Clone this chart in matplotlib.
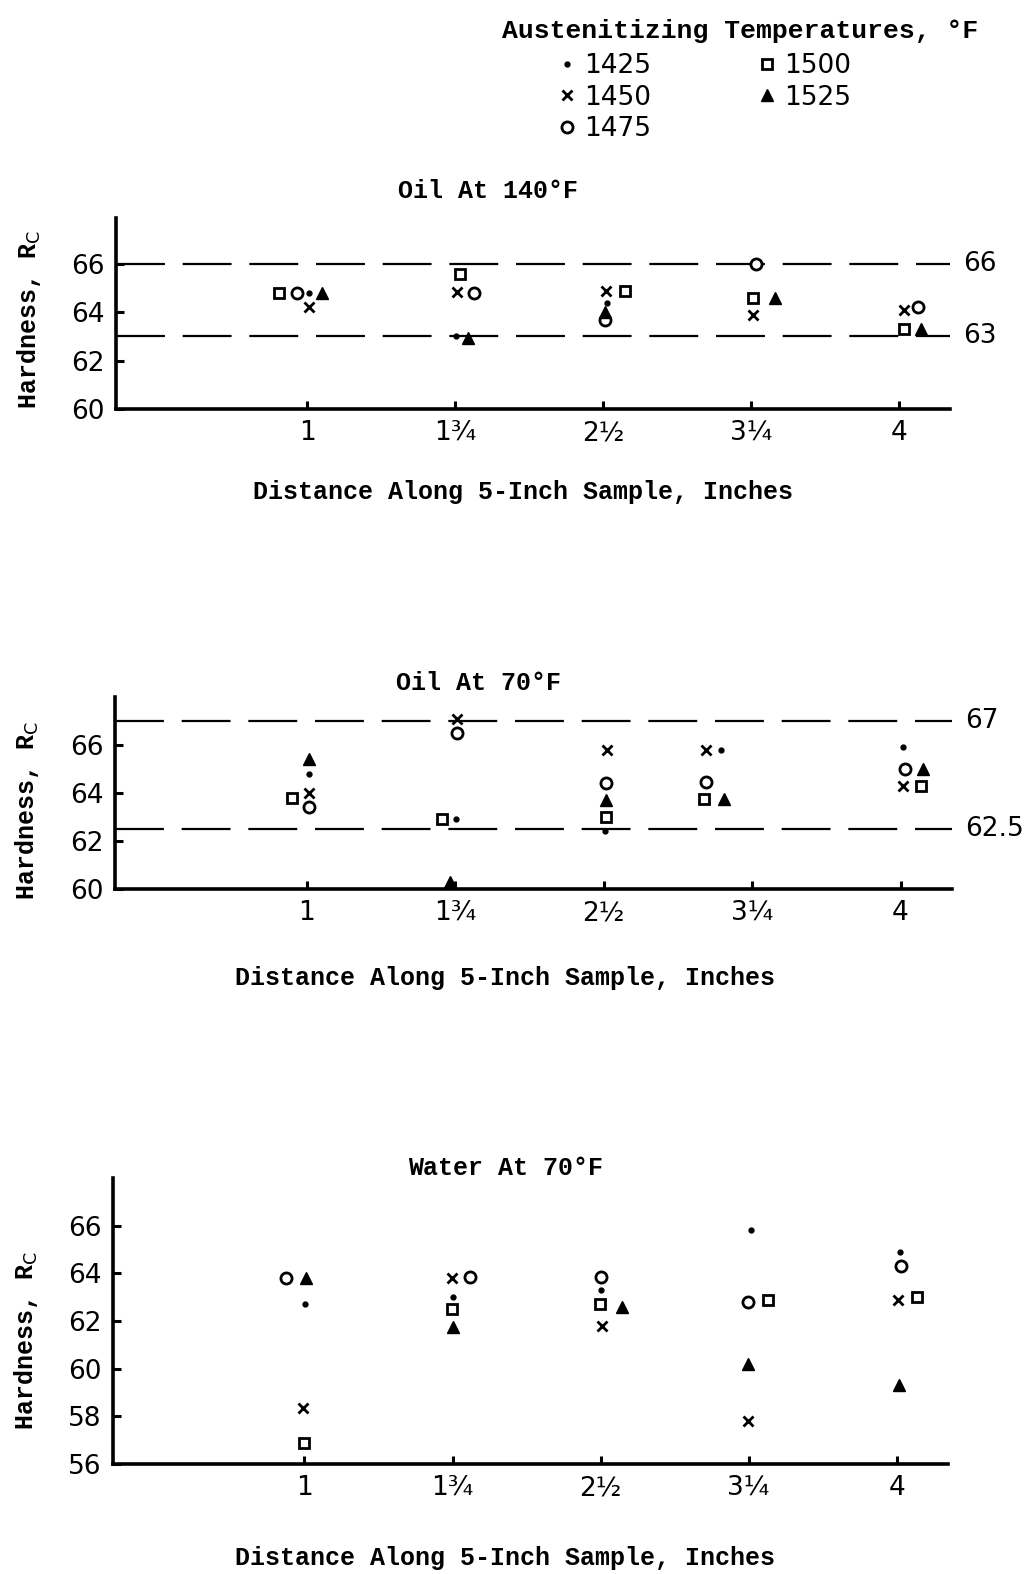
import numpy as np
import matplotlib
matplotlib.use("Agg")
import matplotlib.pyplot as plt
import matplotlib.transforms as mtransforms
from matplotlib.lines import Line2D

nan = np.nan

# positions along the sample (inches) and their tick labels
positions = [1, 1.75, 2.5, 3.25, 4]
pos_labels = ["1", "1¾", "2½", "3¼", "4"]

temps = ["1425", "1450", "1475", "1500", "1525"]

# hardness Rc, one list per austenitizing temperature
oil140 = {
    "1425": [64.8, 63.0, 64.4, nan, nan],
    "1450": [64.2, 64.85, 64.9, 63.9, 64.1],
    "1475": [64.8, 64.8, 63.7, 66.0, 64.2],
    "1500": [64.8, 65.6, 64.9, 64.6, 63.3],
    "1525": [64.8, 62.95, 64.0, 64.6, 63.3],
}
oil70 = {
    "1425": [64.8, 62.9, 62.4, 65.8, 65.9],
    "1450": [64.0, 67.1, 65.8, 65.8, 64.3],
    "1475": [63.4, 66.5, 64.4, 64.45, 65.0],
    "1500": [63.8, 62.9, 63.0, 63.75, 64.3],
    "1525": [65.4, 60.3, 63.7, 63.75, 65.0],
}
water70 = {
    "1425": [62.7, 63.0, 63.3, 65.8, 64.9],
    "1450": [58.35, 63.8, 61.8, 57.8, 62.9],
    "1475": [63.8, 63.85, 63.85, 62.8, 64.3],
    "1500": [56.9, 62.5, 62.7, 62.9, 63.0],
    "1525": [63.8, 61.75, 62.6, 60.2, 59.3],
}

# limit lines drawn on the two oil charts
oil140_limits = [66, 63]
oil70_limits = [67, 62.5]

# ---- layout / styling (pixel nudges so overlapping marks sit side by side)
nudge_oil140 = {
    "1425": [2, 1, 4, 0, 0],
    "1450": [2, 2, 3, 2, 5],
    "1475": [-10, 19, 2, 5, 19],
    "1500": [-28, 5, 22, 2, 5],
    "1525": [15, 13, 2, 24, 22],
}
nudge_oil70 = {
    "1425": [2, 1, 1, -31, 2],
    "1450": [2, 2, 3, -46, 2],
    "1475": [2, 2, 2, -46, 4],
    "1500": [-15, -13, 2, -48, 20],
    "1525": [2, -5, 2, -28, 22],
}
nudge_water70 = {
    "1425": [1, 0, 0, 2, 3],
    "1450": [-1, -1, 1, -1, 1],
    "1475": [-18, 17, 0, -1, 4],
    "1500": [0, -1, -1, 19, 20],
    "1525": [2, 0, 21, -1, 2],
}

marker_style = {
    "1425": dict(marker="o", ms=3.5, mfc="black", mec="black", mew=1),
    "1450": dict(marker="x", ms=7, mec="black", mew=2),
    "1475": dict(marker="o", ms=8, mfc="white", mec="black", mew=2),
    "1500": dict(marker="s", ms=7, mfc="white", mec="black", mew=2),
    "1525": dict(marker="^", ms=8, mfc="black", mec="black", mew=1),
}

TYPE = dict(family="Liberation Mono", weight="bold")
HAND = "DejaVu Sans"

W, H = 1034, 1574
fig = plt.figure(figsize=(W / 100, H / 100), dpi=100)


def px_axes(left, right, top, bottom):
    return fig.add_axes([left / W, 1 - bottom / H, (right - left) / W, (bottom - top) / H])


def draw_panel(ax, data, nudges, ylim, yticks, limits, title, title_xy, ylabel_y, xlabel_xy):
    for side in ["top", "right"]:
        ax.spines[side].set_visible(False)
    for side in ["left", "bottom"]:
        ax.spines[side].set_linewidth(2.6)
    ax.set_xlim(0.03, 4.26)
    ax.set_ylim(*ylim)
    ax.set_yticks(yticks)
    ax.set_xticks(positions)
    ax.set_xticklabels(pos_labels)
    ax.tick_params(axis="both", direction="in", length=6, width=2.2,
                   labelsize=19, pad=8)
    for lab in ax.get_xticklabels() + ax.get_yticklabels():
        lab.set_family(HAND)

    for val in limits:
        ax.axhline(val, color="black", lw=1.6, dashes=(22, 8), zorder=1)
        trans = mtransforms.blended_transform_factory(ax.transAxes, ax.transData)
        ax.text(1.016, val, f"{val:g}", transform=trans,
                ha="left", va="center", fontsize=19, family=HAND)

    for t in temps:
        for i, x in enumerate(positions):
            v = data[t][i]
            if np.isnan(v):
                continue
            tr = mtransforms.offset_copy(ax.transData, fig=fig,
                                         x=nudges[t][i], y=0, units="dots")
            ax.plot([x], [v], ls="none", transform=tr, zorder=3,
                    clip_on=False, **marker_style[t])

    ax.text(title_xy[0], title_xy[1], title, transform=ax.transAxes,
            ha="center", va="center", fontsize=18, **TYPE)
    ax.set_ylabel("Hardness, R$_\\mathrm{C}$", fontsize=18, **TYPE)
    ax.yaxis.set_label_coords(-0.088, ylabel_y)
    ax.set_xlabel("Distance Along 5-Inch Sample, Inches", fontsize=18, **TYPE)
    ax.xaxis.set_label_coords(*xlabel_xy)


ax1 = px_axes(116, 950, 218, 409)
draw_panel(ax1, oil140, nudge_oil140, (60, 67.9), [60, 62, 64, 66], oil140_limits,
           "Oil At 140°F", (0.446, 1.14), 0.47, (0.488, -0.37))

ax2 = px_axes(115, 952, 697, 889)
draw_panel(ax2, oil70, nudge_oil70, (60, 68.0), [60, 62, 64, 66], oil70_limits,
           "Oil At 70°F", (0.434, 1.075), 0.41, (0.466, -0.40))

ax3 = px_axes(113, 948, 1178, 1464)
draw_panel(ax3, water70, nudge_water70, (56, 68.0), [56, 58, 60, 62, 64, 66], [],
           "Water At 70°F", (0.47, 1.035), 0.43, (0.47, -0.285))

# legend: title as its own text, entries in two columns below
fig.text(740 / W, 1 - 31 / H, "Austenitizing Temperatures, °F",
         ha="center", va="center", fontsize=19, **TYPE)
handles = [Line2D([], [], ls="none", **marker_style[t]) for t in temps]
leg = fig.legend(handles, temps, ncol=2, loc="upper left",
                 bbox_to_anchor=(538 / W, 1 - 37 / H), frameon=False,
                 prop={"family": HAND, "size": 19},
                 handletextpad=0.15, handlelength=1.0, columnspacing=3.9,
                 labelspacing=0.22, borderpad=0.1)

fig.savefig("out.png", dpi=100, facecolor="white")
